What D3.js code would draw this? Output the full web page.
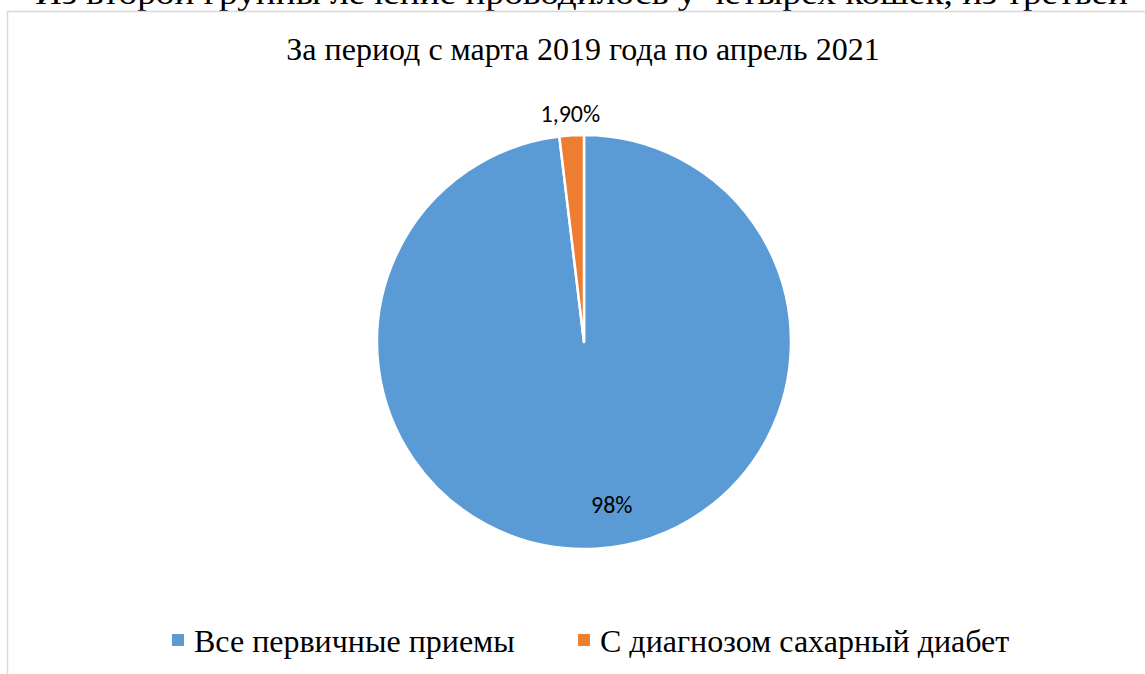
<!DOCTYPE html>
<html>
<head>
<meta charset="utf-8">
<script src="https://cdn.jsdelivr.net/npm/d3@7"></script>
<style>
  body { margin: 0; background: #fff; }
  svg { display: block; }
</style>
</head>
<body>
<svg class="pieChart"></svg>
<script>
// data
const categories = ["Все первичные приемы", "С диагнозом сахарный диабет"];
const values = [98, 1.9];
const valueLabels = ["98%", "1,90%"];
const colors = ["#5b9bd5", "#ed7d31"];
const titleText = "За период с марта 2019 года по апрель 2021";
const pageText = "Из второй группы лечение проводилось у четырех кошек, из третьей";

const width = 1145, height = 674;
const cx = 584, cy = 342, radius = 207;

const svg = d3.select(".pieChart")
    .attr("width", width)
    .attr("height", height);

// cut-off line of the document text above the chart
svg.append("text")
    .attr("x", 35)
    .attr("y", 4)
    .attr("textLength", 1093)
    .attr("lengthAdjust", "spacingAndGlyphs")
    .style("font-family", "'Liberation Serif', 'Times New Roman', serif")
    .style("font-size", "32px")
    .style("fill", "#000")
    .text(pageText);

// chart frame (right and bottom edges fall outside the picture)
svg.append("path")
    .attr("d", `M7.5,${height} V11.5 H${width}`)
    .attr("fill", "none")
    .attr("stroke", "#d9d9d9")
    .attr("stroke-width", 1.5);

svg.append("text")
    .attr("x", cx - 1)
    .attr("y", 60)
    .attr("text-anchor", "middle")
    .style("font-family", "'Liberation Serif', 'Times New Roman', serif")
    .style("font-size", "32px")
    .style("fill", "#000")
    .text(titleText);

const data = categories.map((c, i) => ({name: c, value: values[i], label: valueLabels[i], color: colors[i]}));

const pie = d3.pie().sort(null).value(d => d.value);
const arc = d3.arc().innerRadius(0).outerRadius(radius);

const g = svg.append("g").attr("transform", `translate(${cx},${cy})`);
const arcs = pie(data);

g.selectAll("path.slice")
    .data(arcs)
    .enter().append("path")
    .attr("class", "slice")
    .attr("d", arc)
    .attr("fill", d => d.data.color)
    .attr("stroke", "#fff")
    .attr("stroke-width", 2.5)
    .attr("stroke-linejoin", "round");

// label radius / offsets for inside and outside labels
const labelRadius = [163, radius + 22];
const labelShift = [18, 0];

g.selectAll("text.lbl")
    .data(arcs)
    .enter().append("text")
    .attr("class", "lbl")
    .attr("x", (d, i) => Math.sin((d.startAngle + d.endAngle) / 2) * labelRadius[i] + labelShift[i])
    .attr("y", (d, i) => -Math.cos((d.startAngle + d.endAngle) / 2) * labelRadius[i])
    .attr("dy", "0.35em")
    .attr("text-anchor", "middle")
    .style("font-family", "Carlito, 'Open Sans', 'Noto Sans', sans-serif")
    .style("font-size", "24px")
    .style("fill", "#000")
    .text(d => d.data.label);

// legend
const legendX = [172, 578];
const legend = svg.selectAll(".legend")
    .data(data)
    .enter().append("g")
    .attr("class", "legend")
    .attr("transform", (d, i) => `translate(${legendX[i]},634)`);

legend.append("rect")
    .attr("width", 12)
    .attr("height", 12)
    .style("fill", d => d.color);

legend.append("text")
    .attr("x", 22)
    .attr("y", 18)
    .style("font-family", "'Liberation Serif', 'Times New Roman', serif")
    .style("font-size", "32px")
    .style("fill", "#000")
    .text(d => d.name);
</script>
</body>
</html>
